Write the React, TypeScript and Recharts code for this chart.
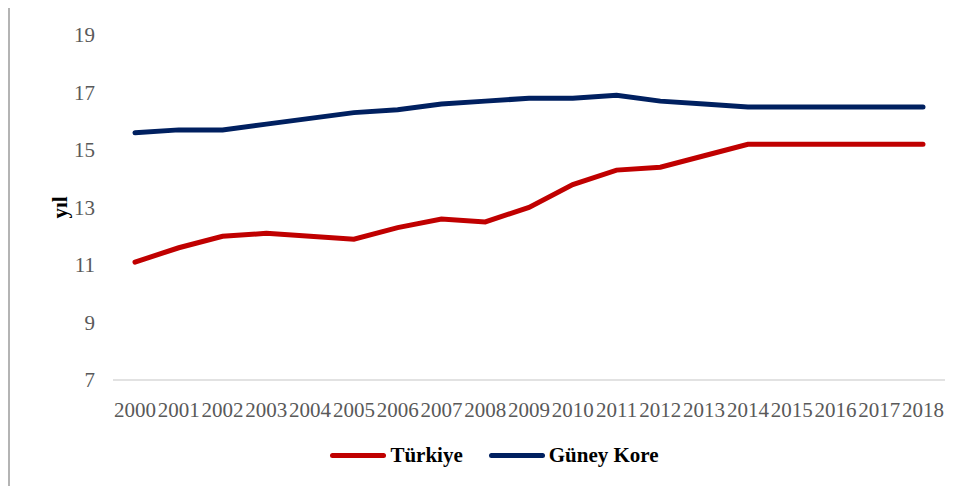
import React from "react"
import { LineChart, Line, XAxis, YAxis, Legend } from "recharts"

const years = ["2000", "2001", "2002", "2003", "2004", "2005", "2006", "2007", "2008", "2009", "2010", "2011", "2012", "2013", "2014", "2015", "2016", "2017", "2018"]
const turkiye = [11.1, 11.6, 12.0, 12.1, 12.0, 11.9, 12.3, 12.6, 12.5, 13.0, 13.8, 14.3, 14.4, 14.8, 15.2, 15.2, 15.2, 15.2, 15.2]
const guneyKore = [15.6, 15.7, 15.7, 15.9, 16.1, 16.3, 16.4, 16.6, 16.7, 16.8, 16.8, 16.9, 16.7, 16.6, 16.5, 16.5, 16.5, 16.5, 16.5]
const yTicks = [7, 9, 11, 13, 15, 17, 19]

const series = [
  { key: "turkiye", name: "Türkiye", color: "#C00000" },
  { key: "guneyKore", name: "Güney Kore", color: "#002060" },
]

const data = years.map((year, i) => ({
  year,
  turkiye: turkiye[i],
  guneyKore: guneyKore[i],
}))

const font = "'Liberation Serif', 'Times New Roman', serif"

function LegendContent() {
  return (
    <div
      style={{
        height: 66,
        display: "flex",
        justifyContent: "center",
        alignItems: "center",
        paddingLeft: 34,
        paddingTop: 4,
        boxSizing: "border-box",
        fontFamily: font,
        fontWeight: "bold",
        fontSize: 21,
        color: "#000",
      }}
    >
      {series.map((s, i) => (
        <div key={s.key} style={{ display: "flex", alignItems: "center", marginLeft: i ? 26 : 0 }}>
          <span
            style={{
              display: "inline-block",
              width: 56,
              height: 5,
              borderRadius: 3,
              background: s.color,
              marginRight: 4,
            }}
          />
          <span>{s.name}</span>
        </div>
      ))}
    </div>
  )
}

export default function App() {
  return (
    <div
      style={{
        marginTop: -2,
        width: 955,
        height: 480,
        borderLeft: "2px solid #b4b4b4",
        borderTop: "2px solid #b4b4b4",
        boxSizing: "border-box",
        overflow: "hidden",
        background: "#fff",
      }}
    >
      <LineChart
        width={953}
        height={478}
        data={data}
        margin={{ top: 27, right: 18, left: 0, bottom: 0 }}
      >
        <XAxis
          dataKey="year"
          interval={0}
          padding={{ left: 22, right: 22 }}
          tickLine={false}
          axisLine={{ stroke: "#d9d9d9", strokeWidth: 1.5 }}
          tick={{ fill: "#595959", fontSize: 21, fontFamily: font }}
          tickMargin={16}
          height={40}
        />
        <YAxis
          domain={[7, 19]}
          ticks={yTicks}
          width={103}
          axisLine={false}
          tickLine={false}
          tickMargin={12}
          tick={{ fill: "#595959", fontSize: 21, fontFamily: font }}
          label={{
            value: "yıl",
            angle: -90,
            position: "center",
            dx: -2,
            style: { fontFamily: font, fontWeight: "bold", fontSize: 21, fill: "#000" },
          }}
        />
        <Legend verticalAlign="bottom" content={<LegendContent />} />
        {series.map((s) => (
          <Line
            key={s.key}
            type="linear"
            dataKey={s.key}
            name={s.name}
            stroke={s.color}
            strokeWidth={5}
            dot={false}
            strokeLinecap="round"
            isAnimationActive={false}
          />
        ))}
      </LineChart>
    </div>
  )
}
